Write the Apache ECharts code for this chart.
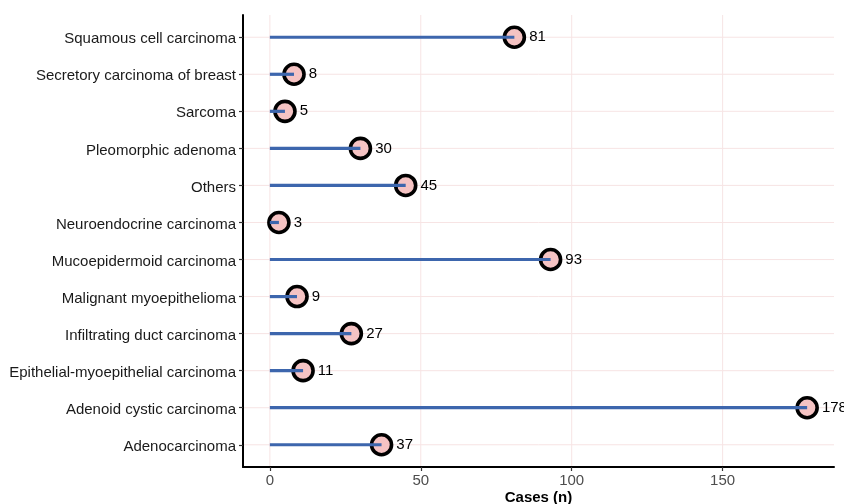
<!DOCTYPE html>
<html>
<head>
<meta charset="utf-8">
<script src="https://cdn.jsdelivr.net/npm/echarts@6/dist/echarts.min.js"></script>
<style>
  html, body { margin: 0; padding: 0; background: #fff; }
  #chart { width: 844px; height: 504px; }
</style>
</head>
<body>
<div id="chart"></div>
<script>
// Tumour types, listed bottom to top
const categories = [
  'Adenocarcinoma',
  'Adenoid cystic carcinoma',
  'Epithelial-myoepithelial carcinoma',
  'Infiltrating duct carcinoma',
  'Malignant myoepithelioma',
  'Mucoepidermoid carcinoma',
  'Neuroendocrine carcinoma',
  'Others',
  'Pleomorphic adenoma',
  'Sarcoma',
  'Secretory carcinoma of breast',
  'Squamous cell carcinoma'
];
// Number of cases per tumour type
const cases = [37, 178, 11, 27, 9, 93, 3, 45, 30, 5, 8, 81];
// Ticks on the cases axis
const xTicks = [0, 50, 100, 150];

const X_MIN = -8.9, X_MAX = 186.9;
const rowIdx = categories.map((_, i) => i);
const points = cases.map((v, i) => [v, i]);

const gridColor = '#F7E4E4';
const fontFamily = '"Liberation Sans", Arial, Helvetica, sans-serif';

const chart = echarts.init(document.getElementById('chart'), null, { renderer: 'canvas' });

chart.setOption({
  animation: false,
  backgroundColor: '#ffffff',
  grid: { left: 243, right: 10, top: 15, bottom: 37, containLabel: false, outerBoundsMode: 'none' },
  xAxis: {
    type: 'value',
    min: X_MIN,
    max: X_MAX,
    name: 'Cases (n)',
    nameLocation: 'middle',
    nameGap: 23,
    nameMoveOverlap: false,
    nameTextStyle: { fontFamily, fontSize: 15, fontWeight: 'bold', color: '#000' },
    axisLine: { show: true, onZero: false, lineStyle: { color: '#000', width: 2 } },
    axisTick: { show: true, customValues: xTicks, length: 4, lineStyle: { color: '#333', width: 1.2 } },
    axisLabel: { customValues: xTicks, fontFamily, fontSize: 15, color: '#4D4D4D', margin: 6 },
    splitLine: { show: false }
  },
  yAxis: {
    type: 'value',
    min: -0.6,
    max: categories.length - 1 + 0.6,
    axisLine: { show: true, onZero: false, lineStyle: { color: '#000', width: 2 } },
    axisTick: { show: true, customValues: rowIdx, length: 4, lineStyle: { color: '#333', width: 1.2 } },
    axisLabel: {
      customValues: rowIdx,
      formatter: (v) => '{t|' + (categories[Math.round(v)] || '') + '}',
      margin: 7,
      rich: {
        t: { fontFamily, fontSize: 15, color: '#1A1A1A', padding: [4, 0, 0, 0] }
      }
    },
    splitLine: { show: false }
  },
  series: [
    {
      // faint horizontal panel grid, one line per tumour type
      type: 'custom',
      silent: true,
      data: rowIdx,
      renderItem: (params, api) => {
        const a = api.coord([X_MIN, api.value(0)]);
        const b = api.coord([X_MAX, api.value(0)]);
        return { type: 'line', shape: { x1: a[0], y1: a[1], x2: b[0], y2: b[1] },
                 style: { stroke: gridColor, lineWidth: 1 } };
      },
      z: 0
    },
    {
      // faint vertical panel grid at the tick values
      type: 'custom',
      silent: true,
      data: xTicks,
      renderItem: (params, api) => {
        const a = api.coord([api.value(0), -0.6]);
        const b = api.coord([api.value(0), categories.length - 0.4]);
        return { type: 'line', shape: { x1: a[0], y1: a[1], x2: b[0], y2: b[1] },
                 style: { stroke: gridColor, lineWidth: 1 } };
      },
      encode: { x: 0 },
      z: 0
    },
    {
      type: 'scatter',
      data: points,
      symbol: 'circle',
      symbolSize: 20,
      itemStyle: { color: '#F5C3C3', borderColor: '#000', borderWidth: 3.6, opacity: 1 },
      label: {
        show: true,
        position: 'right',
        distance: 3,
        formatter: (p) => String(p.value[0]),
        fontFamily, fontSize: 15, color: '#000',
        textBorderWidth: 0
      },
      z: 2
    },
    {
      // stems from zero to each count, drawn over the point fill
      type: 'custom',
      silent: true,
      data: points,
      renderItem: (params, api) => {
        const start = api.coord([0, api.value(1)]);
        const end = api.coord([api.value(0), api.value(1)]);
        return {
          type: 'line',
          shape: { x1: start[0], y1: start[1], x2: end[0], y2: end[1] },
          style: { stroke: '#3D66AD', lineWidth: 3.2 }
        };
      },
      z: 3
    }
  ]
});
</script>
</body>
</html>
